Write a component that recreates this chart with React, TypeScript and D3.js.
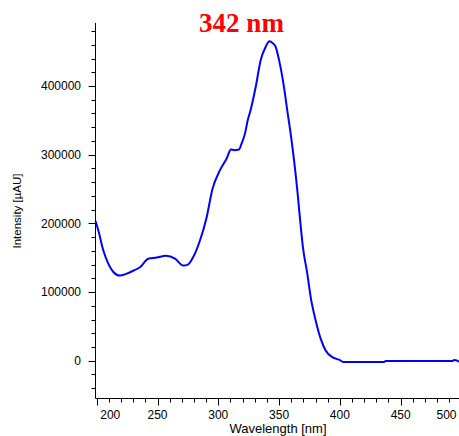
import { useEffect, useRef } from "react";
import * as d3 from "d3";

// spectrum
const wavelength = [
  199, 201.3, 205.4, 209.5, 213.7, 219, 224.7, 230, 235.6, 242.4, 249.3, 257,
  264.4, 271.2, 275.3, 279.4, 285, 290.5, 295.1, 301.4, 306.9, 310.4, 313.2,
  317, 319.2, 322, 324.2, 326.6, 330.8, 334.9, 339, 342, 345, 347.2, 350, 354,
  356.7, 359.5, 362.3, 365, 367.2, 369.5, 373.2, 376, 380.1, 384.2, 388.3,
  393.8, 399.3, 403.4, 436.3, 437.7, 492.4, 494, 498,
];
const intensity = [
  203500, 190000, 160800, 141400, 129200, 124000, 126800, 131000, 136000,
  148500, 150200, 153000, 148700, 138500, 140400, 151000, 175400, 209300,
  249300, 277400, 294500, 307600, 306600, 307600, 316300, 331000, 350000,
  365000, 398800, 437700, 457100, 465000, 462000, 457100, 437700, 398800,
  365000, 331000, 292000, 248300, 207000, 167000, 126800, 92700, 58700, 32100,
  15000, 5200, 1500, -2000, -2000, -500, -500, 900, -1400,
];

const yMajor = [0, 100000, 200000, 300000, 400000];
const xMajor = [200, 250, 300, 350, 400, 450, 500];
const peakLabel = "342 nm";
const xTitle = "Wavelength [nm]";
const yTitle = "Intensity [µAU]";

const W = 459,
  H = 436;

export default function App() {
  const ref = useRef<SVGSVGElement>(null);

  useEffect(() => {
    const svg = d3.select(ref.current);
    svg.selectAll("*").remove();

    const left = 95.5,
      bottom = 398.5,
      top = 23;

    const x = d3.scaleLinear().domain([199, 498]).range([left, W]);
    const y = d3.scaleLinear().domain([-55000, 491700]).range([bottom, top]);

    const font = "'Liberation Sans', Arial, sans-serif";

    // y axis
    const yMinor = d3.range(-40000, 490000, 20000);
    const ya = svg.append("g").attr("transform", `translate(${left},0)`);
    ya.append("line")
      .attr("x1", 0).attr("x2", 0)
      .attr("y1", top).attr("y2", bottom)
      .attr("stroke", "#000");
    ya.selectAll(".mn")
      .data(yMinor)
      .join("line")
      .attr("x1", (d) => (yMajor.includes(d) ? -7 : -4))
      .attr("x2", 0)
      .attr("y1", (d) => Math.round(y(d)) + 0.5)
      .attr("y2", (d) => Math.round(y(d)) + 0.5)
      .attr("stroke", "#000");
    ya.selectAll(".lb")
      .data(yMajor)
      .join("text")
      .attr("x", -14.5)
      .attr("y", (d) => y(d))
      .attr("dy", "0.36em")
      .attr("text-anchor", "end")
      .attr("font-family", font)
      .attr("font-size", 12)
      .text((d) => String(d));

    // x axis
    const xMinor = d3.range(200, 500, 10);
    const xa = svg.append("g").attr("transform", `translate(0,${bottom})`);
    xa.append("line")
      .attr("x1", left).attr("x2", W)
      .attr("y1", 0).attr("y2", 0)
      .attr("stroke", "#000");
    xa.selectAll(".mn")
      .data(xMinor)
      .join("line")
      .attr("x1", (d) => Math.round(x(d)) + 0.5)
      .attr("x2", (d) => Math.round(x(d)) + 0.5)
      .attr("y1", 0)
      .attr("y2", (d) => (d % 50 === 0 ? 7 : 4))
      .attr("stroke", "#000");
    xa.selectAll(".lb")
      .data(xMajor)
      .join("text")
      .attr("x", (d, i) =>
        i === 0 ? x(d) + 3.5 : i === xMajor.length - 1 ? W - 2.5 : x(d)
      )
      .attr("y", 20)
      .attr("text-anchor", (d, i) =>
        i === 0 ? "start" : i === xMajor.length - 1 ? "end" : "middle"
      )
      .attr("font-family", font)
      .attr("font-size", 12)
      .text((d) => String(d));

    // titles
    svg.append("text")
      .attr("x", 278)
      .attr("y", 433)
      .attr("text-anchor", "middle")
      .attr("font-family", font)
      .attr("font-size", 13)
      .text(xTitle);
    svg.append("text")
      .attr("transform", "translate(21,211) rotate(-90)")
      .attr("text-anchor", "middle")
      .attr("font-family", font)
      .attr("font-size", 11.5)
      .text(yTitle);
    svg.append("text")
      .attr("x", 241.5)
      .attr("y", 32)
      .attr("text-anchor", "middle")
      .attr("font-family", "'Liberation Serif', 'Times New Roman', serif")
      .attr("font-weight", "bold")
      .attr("font-size", 27)
      .attr("fill", "#ff0000")
      .text(peakLabel);

    // spectrum
    const pts = wavelength.map((w, i) => [w, intensity[i]] as [number, number]);
    svg.append("path")
      .datum(pts)
      .attr("fill", "none")
      .attr("stroke", "#0000ff")
      .attr("stroke-width", 2)
      .attr(
        "d",
        d3
          .line<[number, number]>()
          .x((d) => x(d[0]))
          .y((d) => y(d[1]))
          .curve(d3.curveMonotoneX)
      );
  }, []);

  return (
    <svg
      ref={ref}
      width={W}
      height={H}
      style={{ position: "absolute", left: 0, top: 0, background: "#fff" }}
    />
  );
}
